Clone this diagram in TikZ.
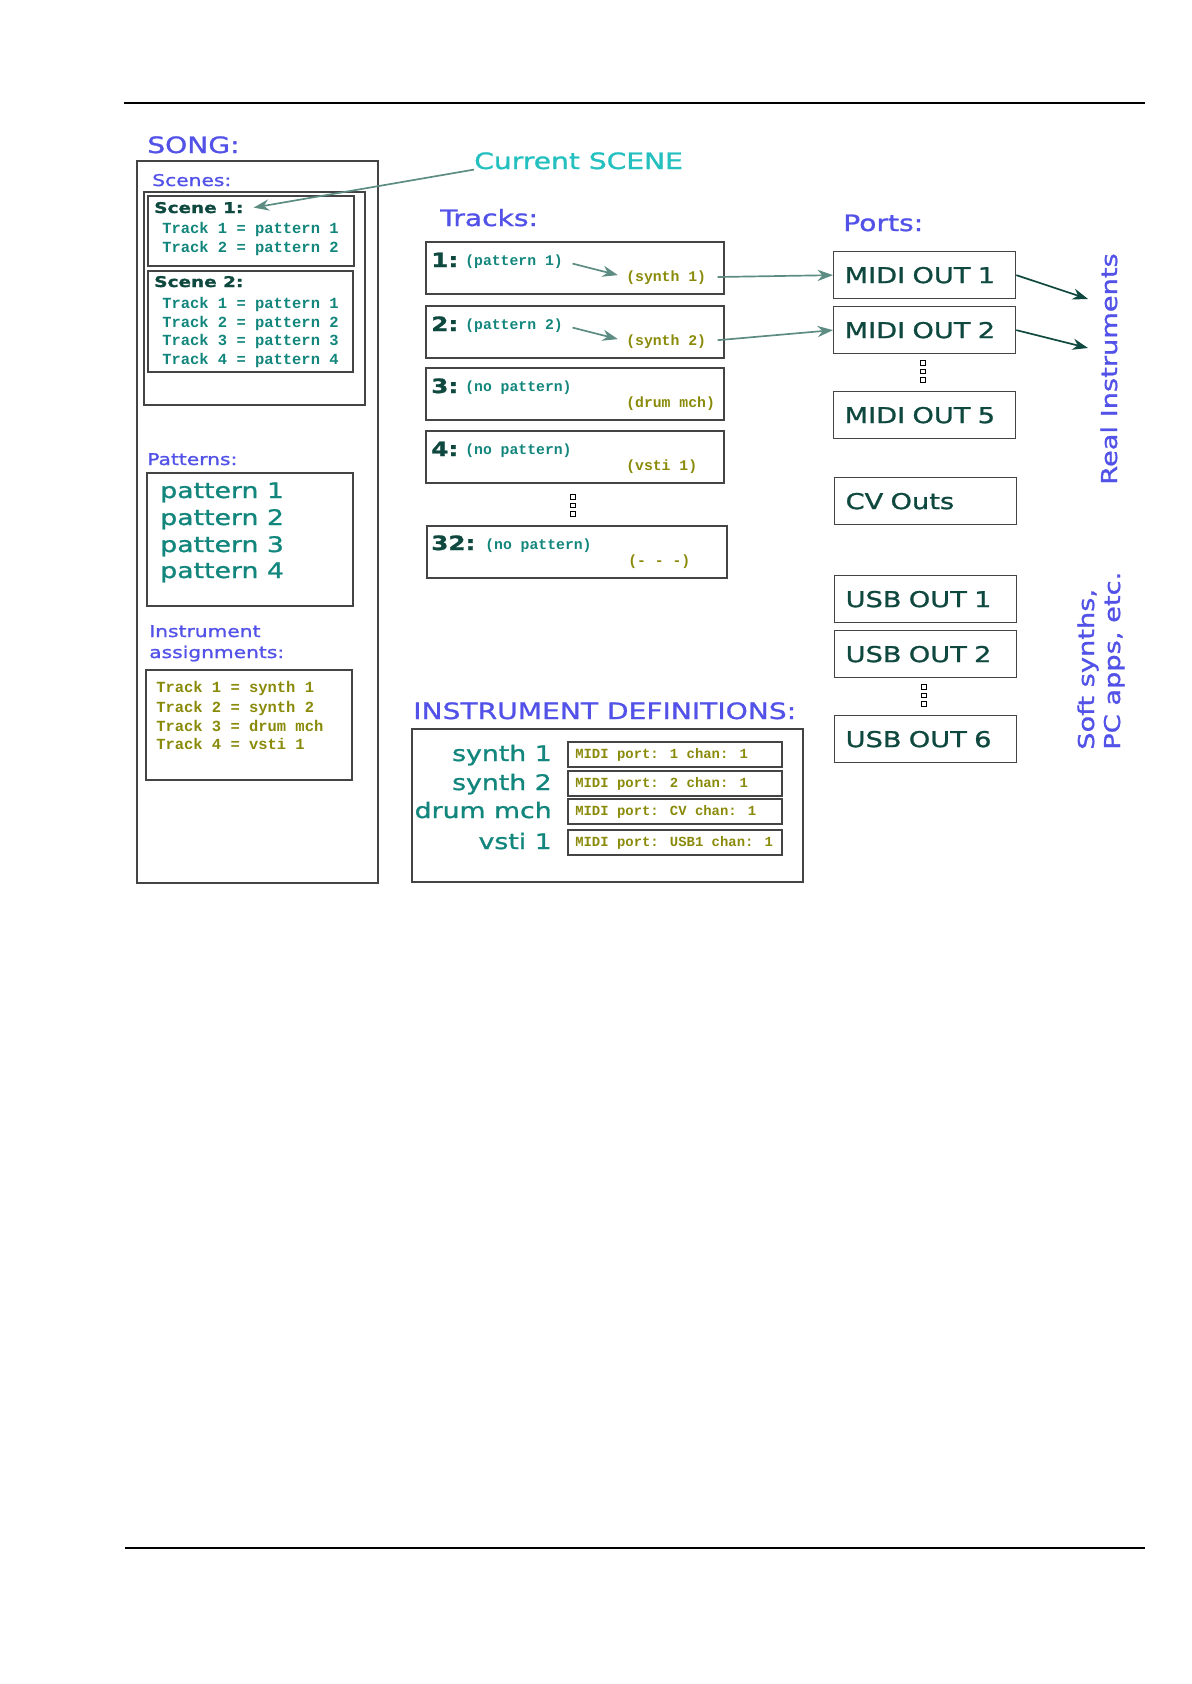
\documentclass[tikz,border=0pt]{standalone}
\usepackage{fontspec}
\usepackage{xcolor}
\definecolor{hdrblue}{RGB}{82,82,232}
\definecolor{tealtext}{RGB}{18,134,124}
\definecolor{darkgreen}{RGB}{14,72,62}
\definecolor{olivetext}{RGB}{138,138,10}
\definecolor{cyantext}{RGB}{36,192,192}
\definecolor{arrowgray}{RGB}{92,140,130}
\definecolor{boxgray}{RGB}{68,68,68}
\newfontfamily\widefont[FakeStretch=1.25, FakeBold=1.2]{DejaVu Sans}
\newfontfamily\codefont{Liberation Mono}
\usepackage{tikz}
\usetikzlibrary{arrows.meta}

\tikzset{
    box/.style={draw=boxgray, line width=0.9pt},
    heading/.style={anchor=base west, inner sep=0pt, text=hdrblue,
        font=\widefont\fontsize{16}{18}\selectfont},
    subheading/.style={anchor=base west, inner sep=0pt, text=hdrblue,
        font=\widefont\fontsize{11.5}{13}\selectfont},
    scenelabel/.style={anchor=base west, inner sep=0pt, text=darkgreen,
        font=\widefont\bfseries\fontsize{10.5}{12}\selectfont},
    tracknum/.style={anchor=base west, inner sep=0pt, text=darkgreen,
        font=\widefont\bfseries\fontsize{14}{16}\selectfont},
    bigname/.style={inner sep=0pt, text=tealtext,
        font=\widefont\fontsize{15.2}{18}\selectfont},
    mono/.style={anchor=base west, inner sep=0pt,
        font=\codefont\bfseries\fontsize{#1}{13}\selectfont},
    mono/.default=11,
    portbox/.style={box, anchor=north west, text=darkgreen, align=left,
        text width=4.0cm, inner xsep=0.275cm, minimum height=1.175cm,
        font=\widefont\fontsize{15.5}{18}\selectfont},
    dotbox/.style={draw=black, line width=0.5pt, inner sep=0pt, minimum size=0.11cm},
    softarrow/.style={arrowgray, line width=1.2pt, -{Stealth[length=11pt, width=8pt]}},
    hardarrow/.style={darkgreen, line width=1.2pt, -{Stealth[length=11pt, width=8pt]}},
}

\begin{document}
\begin{tikzpicture}[x=0.025cm, y=-0.025cm]
    \useasboundingbox (0,0) rectangle (1191,1684);

    % Page rules
    \draw[line width=1pt] (124,103) -- (1145,103);
    \draw[line width=1pt] (125,1548) -- (1145,1548);

    % Song column: scenes
    \node[heading] (song) at (147,153) {SONG:};
    \draw[box] (137,161) rectangle (378,883);
    \node[subheading] (scenes) at (152,186) {Scenes:};
    \draw[box] (144,192) rectangle (365,405);
    \draw[box] (148,196) rectangle (354,266);
    \draw[box] (148,271) rectangle (353,372);
    \node[scenelabel] (sc1) at (154,213) {Scene 1:};
    \node[scenelabel] (sc2) at (154,287) {Scene 2:};
    \foreach \i/\y in {1/233, 2/252}
        \node[mono, text=tealtext] (sconeln\i) at (162,\y) {Track \i{} = pattern \i};
    \foreach \i/\y in {1/308, 2/327, 3/345, 4/364}
        \node[mono, text=tealtext] (sctwoln\i) at (162,\y) {Track \i{} = pattern \i};

    % Song column: patterns
    \node[subheading] (patterns) at (147,465) {Patterns:};
    \draw[box] (147,473) rectangle (353,606);
    \foreach \i/\y in {1/498, 2/525, 3/552, 4/578}
        \node[bigname, anchor=base west] (patlist\i) at (160,\y) {pattern \i};

    % Song column: instrument assignments
    \node[subheading] (instr) at (149,637) {Instrument};
    \node[subheading] (assign) at (149,658) {assignments:};
    \draw[box] (146,670) rectangle (352,780);
    \foreach \i/\name/\y in {1/synth 1/692, 2/synth 2/712, 3/drum mch/731, 4/vsti 1/749}
        \node[mono, text=olivetext] (assign\i) at (156,\y) {Track \i{} = \name};

    % Current scene pointer
    \node[heading, text=cyantext] (cursc) at (474,169) {Current SCENE};
    \draw[softarrow] (cursc.south west) -- ([xshift=0.25cm]sc1.east);

    % Tracks
    \node[heading] (tracks) at (440,226) {Tracks:};
    \foreach \i/\t/\pat/\ins in {1/242/pattern 1/synth 1, 2/306/pattern 2/synth 2,
                                 3/368/no pattern/drum mch, 4/431/no pattern/vsti 1} {
        \draw[box] (426,\t) rectangle ++(298,52);
        \node[tracknum] (num\i) at (431,\t+25) {\i:};
        \node[mono=10.5, text=tealtext] (trkpat\i) at (465,\t+23) {(\pat)};
        \node[mono=10.5, text=olivetext] (trkins\i) at (626,\t+39) {(\ins)};
    }
    \draw[box] (427,526) rectangle (727,578);
    \node[tracknum] (num32) at (431,550) {32:};
    \node[mono=10.5, text=tealtext] (trkpat32) at (485,549) {(no pattern)};
    \node[mono=10.5, text=olivetext] (trkins32) at (628,565) {(- - -)};
    \foreach \i in {1,2}
        \draw[softarrow, shorten <=7pt, shorten >=6pt] (trkpat\i.east) -- (trkins\i.west);

    % Ports
    \node[heading] (ports) at (843,231) {Ports:};
    \node[portbox] (midi1) at (833,251) {MIDI OUT 1};
    \node[portbox] (midi2) at (833,306) {MIDI OUT 2};
    \node[portbox] (midi5) at (833,391) {MIDI OUT 5};
    \node[portbox] (cvout) at (834,477) {CV Outs};
    \node[portbox] (usb1) at (834,575) {USB OUT 1};
    \node[portbox] (usb2) at (834,630) {USB OUT 2};
    \node[portbox] (usb6) at (834,715) {USB OUT 6};

    % Little dots for the skipped entries
    \foreach \k in {0,1,2} {
        \node[dotbox] (trkdot\k) at (573,497+\k*8.5) {};
        \node[dotbox] (mididot\k) at (923,363+\k*8.5) {};
        \node[dotbox] (usbdot\k) at (924,687+\k*8.5) {};
    }

    % Tracks to ports, ports to instruments
    \draw[softarrow, shorten <=8pt] (trkins1.east) -- (midi1.west);
    \draw[softarrow, shorten <=8pt] (trkins2.east) -- (midi2.west);
    \coordinate (real1) at (1088,299);
    \coordinate (real2) at (1088,348);
    \draw[hardarrow] (midi1.east) -- (real1);
    \draw[hardarrow] (midi2.east) -- (real2);
    \node[heading, rotate=90, font=\widefont\fontsize{15.5}{18}\selectfont] (realinst) at (1117,485) {Real Instruments};
    \node[heading, rotate=90, font=\widefont\fontsize{15.5}{18}\selectfont] (softsyn) at (1094,750) {Soft synths,};
    \node[heading, rotate=90, font=\widefont\fontsize{15.5}{18}\selectfont] (pcapps) at (1120,750) {PC apps, etc.};

    % Instrument definitions
    \node[heading] (instdef) at (413,719) {INSTRUMENT DEFINITIONS:};
    \draw[box] (412,729) rectangle (803,882);
    \foreach \i/\name/\port/\t in {1/synth 1/1/742, 2/synth 2/2/771,
                                   3/drum mch/CV/799, 4/vsti 1/USB1/830} {
        \node[bigname, anchor=base east] (defname\i) at (552,\t+19) {\name};
        \draw[box] (568,\t) rectangle ++(214,25);
        \node[mono=9.9, text=olivetext] (defport\i) at (575,\t+16) {MIDI port: \port{} chan: 1};
    }
\end{tikzpicture}
\end{document}
